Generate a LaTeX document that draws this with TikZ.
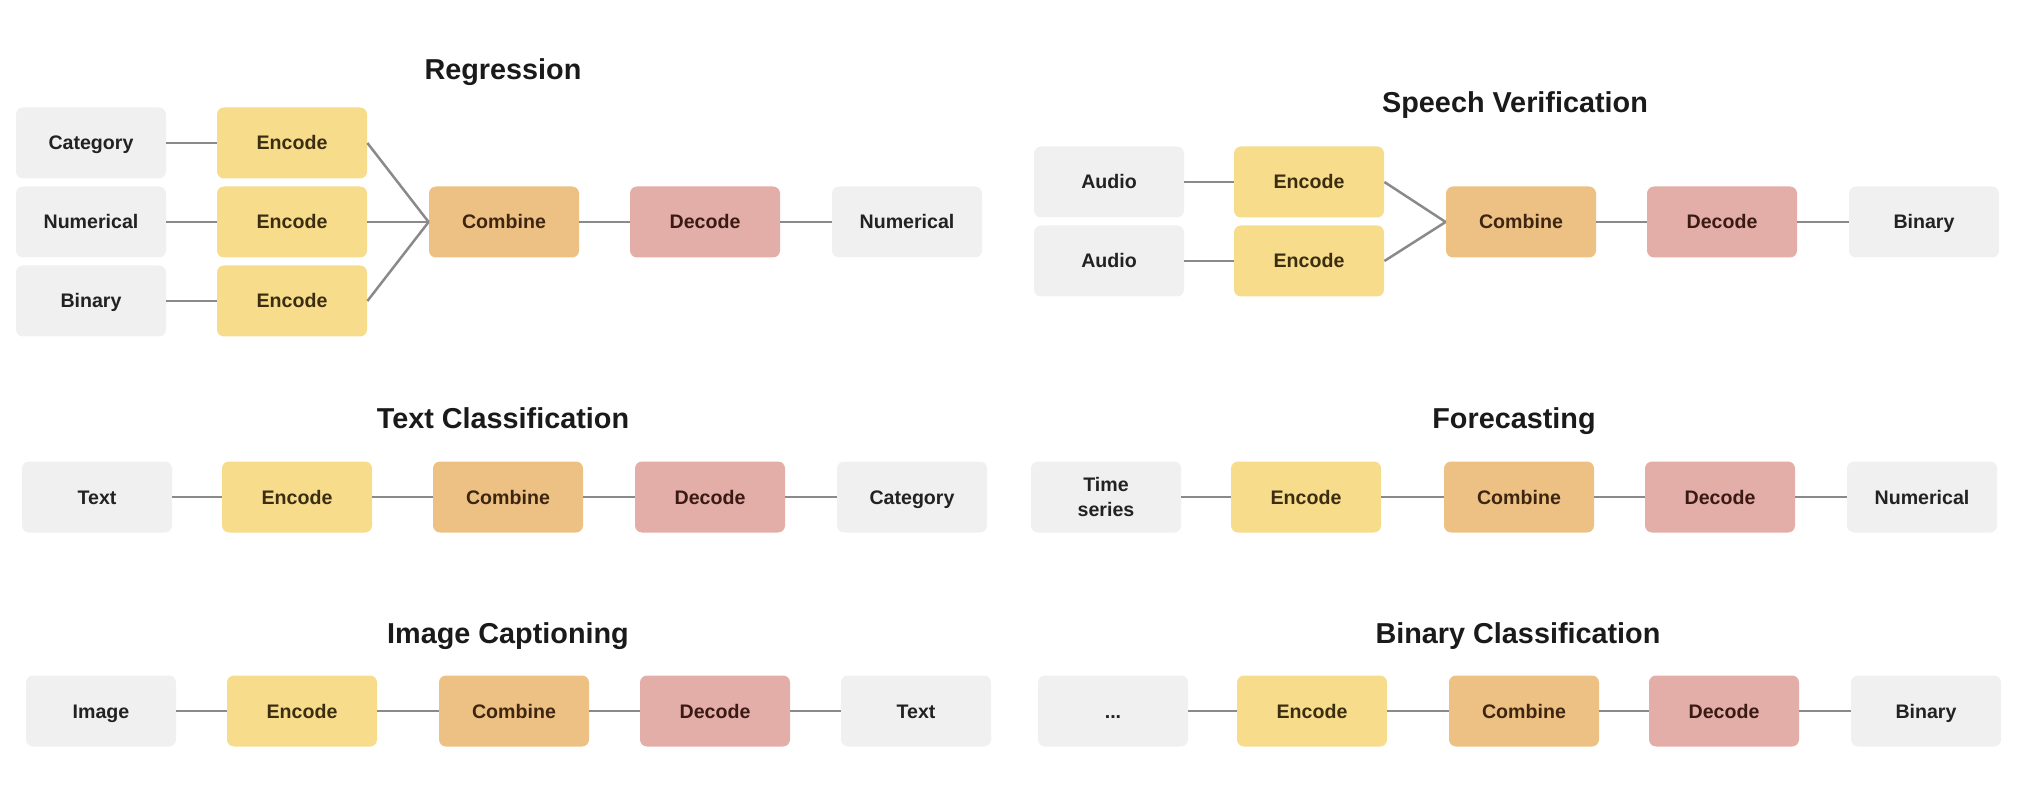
\documentclass[tikz,border=0pt]{standalone}
\usepackage{fontspec}
\setmainfont{Liberation Sans}
\definecolor{iogray}{HTML}{F0F0F0}
\definecolor{iotext}{HTML}{222222}
\definecolor{encfill}{HTML}{F7DC8C}
\definecolor{enctext}{HTML}{3B2E10}
\definecolor{combfill}{HTML}{EDC183}
\definecolor{combtext}{HTML}{3D2510}
\definecolor{decfill}{HTML}{E3ADA8}
\definecolor{dectext}{HTML}{3B1A14}
\definecolor{linegray}{HTML}{8A8A8A}
\definecolor{titletext}{HTML}{1A1A1A}
\begin{document}
\begin{tikzpicture}[x=0.5pt,y=-0.5pt,
  box/.style={rounded corners=3.5pt, minimum width=75pt, minimum height=35.5pt, inner sep=0pt,
    font=\fontsize{9.8}{11.5}\selectfont\bfseries, align=center, text height=7pt, text depth=0pt},
  io/.style={box, fill=iogray, text=iotext},
  twoline/.style={text height=, text depth=, font=\fontsize{9.8}{12.3}\selectfont\bfseries},
  enc/.style={box, fill=encfill, text=enctext},
  comb/.style={box, fill=combfill, text=combtext},
  dec/.style={box, fill=decfill, text=dectext},
  ttl/.style={font=\fontsize{14.4}{17}\selectfont\bfseries, text=titletext, text height=10.3pt, text depth=0pt, inner sep=0pt},
  link/.style={draw=linegray, line width=1.25pt}]
\useasboundingbox (0,0) rectangle (2034,796);

% ---------- Regression ----------
\node[ttl] (t1) at (503,69) {Regression};
\node[io] (r1i1) at (91,143) {Category};
\node[io] (r1i2) at (91,222) {Numerical};
\node[io] (r1i3) at (91,301) {Binary};
\node[enc] (r1e1) at (292,143) {Encode};
\node[enc] (r1e2) at (292,222) {Encode};
\node[enc] (r1e3) at (292,301) {Encode};
\node[comb] (r1c) at (504,222) {Combine};
\node[dec] (r1d) at (705,222) {Decode};
\node[io] (r1o) at (907,222) {Numerical};
\draw[link] (r1i1) -- (r1e1);
\draw[link] (r1i2) -- (r1e2);
\draw[link] (r1i3) -- (r1e3);
\draw[link] (r1e1.east) -- (r1c.west);
\draw[link] (r1e2.east) -- (r1c.west);
\draw[link] (r1e3.east) -- (r1c.west);
\draw[link] (r1c) -- (r1d);
\draw[link] (r1d) -- (r1o);

% ---------- Speech Verification ----------
\node[ttl] (t2) at (1515,102) {Speech Verification};
\node[io] (r2i1) at (1109,182) {Audio};
\node[io] (r2i2) at (1109,261) {Audio};
\node[enc] (r2e1) at (1309,182) {Encode};
\node[enc] (r2e2) at (1309,261) {Encode};
\node[comb] (r2c) at (1521,222) {Combine};
\node[dec] (r2d) at (1722,222) {Decode};
\node[io] (r2o) at (1924,222) {Binary};
\draw[link] (r2i1) -- (r2e1);
\draw[link] (r2i2) -- (r2e2);
\draw[link] (r2e1.east) -- (r2c.west);
\draw[link] (r2e2.east) -- (r2c.west);
\draw[link] (r2c) -- (r2d);
\draw[link] (r2d) -- (r2o);

% ---------- Text Classification ----------
\node[ttl] (t3) at (503,418) {Text Classification};
\node[io] (r3i) at (97,497) {Text};
\node[enc] (r3e) at (297,497) {Encode};
\node[comb] (r3c) at (508,497) {Combine};
\node[dec] (r3d) at (710,497) {Decode};
\node[io] (r3o) at (912,497) {Category};
\draw[link] (r3i) -- (r3e);
\draw[link] (r3e) -- (r3c);
\draw[link] (r3c) -- (r3d);
\draw[link] (r3d) -- (r3o);

% ---------- Forecasting ----------
\node[ttl] (t4) at (1514,418) {Forecasting};
\node[io, twoline] (r4i) at (1106,497) {Time\\series};
\node[enc] (r4e) at (1306,497) {Encode};
\node[comb] (r4c) at (1519,497) {Combine};
\node[dec] (r4d) at (1720,497) {Decode};
\node[io] (r4o) at (1922,497) {Numerical};
\draw[link] (r4i) -- (r4e);
\draw[link] (r4e) -- (r4c);
\draw[link] (r4c) -- (r4d);
\draw[link] (r4d) -- (r4o);

% ---------- Image Captioning ----------
\node[ttl] (t5) at (508,633) {Image Captioning};
\node[io] (r5i) at (101,711) {Image};
\node[enc] (r5e) at (302,711) {Encode};
\node[comb] (r5c) at (514,711) {Combine};
\node[dec] (r5d) at (715,711) {Decode};
\node[io] (r5o) at (916,711) {Text};
\draw[link] (r5i) -- (r5e);
\draw[link] (r5e) -- (r5c);
\draw[link] (r5c) -- (r5d);
\draw[link] (r5d) -- (r5o);

% ---------- Binary Classification ----------
\node[ttl] (t6) at (1518,633) {Binary Classification};
\node[io] (r6i) at (1113,711) {...};
\node[enc] (r6e) at (1312,711) {Encode};
\node[comb] (r6c) at (1524,711) {Combine};
\node[dec] (r6d) at (1724,711) {Decode};
\node[io] (r6o) at (1926,711) {Binary};
\draw[link] (r6i) -- (r6e);
\draw[link] (r6e) -- (r6c);
\draw[link] (r6c) -- (r6d);
\draw[link] (r6d) -- (r6o);
\end{tikzpicture}
\end{document}
